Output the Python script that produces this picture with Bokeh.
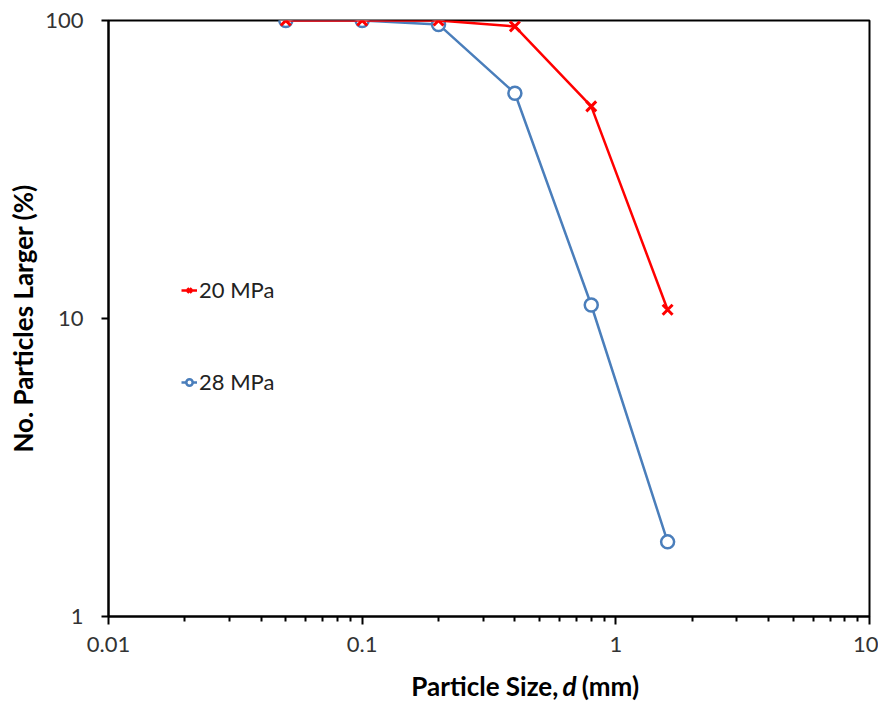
from bokeh.plotting import figure
from bokeh.layouts import column
from bokeh.models import Range1d, FixedTicker, Legend, LegendItem
from bokeh.core.properties import value
from bokeh.embed import file_html
from bokeh.resources import INLINE

# Data
particle_size = [0.05, 0.1, 0.2, 0.4, 0.8, 1.6]
pct_20mpa = [100, 100, 100, 95.5, 51.5, 10.7]
pct_28mpa = [100, 100, 97, 57, 11.1, 1.78]
series_names = ["20 MPa", "28 MPa"]
x_ticks = [0.01, 0.1, 1, 10]
x_tick_labels = ["0.01", "0.1", "1", "10"]
y_ticks = [1, 10, 100]
y_tick_labels = ["1", "10", "100"]
x_label_parts = ["Particle Size,", "d", "(mm)"]
y_label = "No. Particles Larger (%)"

FONT = "Lato"
RED = "#FF0000"
BLUE = "#4A7EBB"
W = 878

p = figure(width=W, height=666, x_axis_type="log", y_axis_type="log",
           x_range=Range1d(0.01, 10), y_range=Range1d(1, 100),
           output_backend="svg", toolbar_location=None,
           min_border_left=108, min_border_right=9,
           min_border_top=20, min_border_bottom=50)

p.xgrid.visible = False
p.ygrid.visible = False
p.outline_line_color = "black"
p.outline_line_width = 2
p.background_fill_color = "white"
p.border_fill_color = "white"

minor = [m * d for d in [0.01, 0.1, 1] for m in range(2, 10)]
p.xaxis.ticker = FixedTicker(ticks=x_ticks, minor_ticks=minor)
p.yaxis.ticker = FixedTicker(ticks=y_ticks, minor_ticks=[])
p.xaxis.major_label_overrides = {t: l for t, l in zip(x_ticks, x_tick_labels)}
p.yaxis.major_label_overrides = {t: l for t, l in zip(y_ticks, y_tick_labels)}

for ax in (p.xaxis[0], p.yaxis[0]):
    ax.axis_line_color = "black"
    ax.axis_line_width = 2
    ax.major_tick_line_color = "black"
    ax.major_tick_line_width = 2
    ax.minor_tick_line_color = "black"
    ax.minor_tick_line_width = 2
    ax.major_tick_in = 0
    ax.minor_tick_in = 0
    ax.major_label_text_font = FONT
    ax.major_label_text_font_size = "22px"
    ax.major_label_text_color = "#333333"

p.xaxis.major_tick_out = 8
p.xaxis.minor_tick_out = 5
p.xaxis.major_label_standoff = 12
p.yaxis.major_tick_out = 7
p.yaxis.minor_tick_out = 0
p.yaxis.major_label_standoff = 18

p.yaxis.axis_label = y_label
p.yaxis.axis_label_text_font = FONT
p.yaxis.axis_label_text_font_size = "26px"
p.yaxis.axis_label_text_font_style = "bold"
p.yaxis.axis_label_text_color = "black"
p.yaxis.axis_label_standoff = 3

# Series 28 MPa (drawn first)
l28 = p.line(particle_size, pct_28mpa, line_color=BLUE, line_width=2.5)
m28 = p.scatter(particle_size, pct_28mpa, marker="circle", size=13,
                line_color=BLUE, line_width=2.5, fill_color="white")
# Series 20 MPa
l20 = p.line(particle_size, pct_20mpa, line_color=RED, line_width=2.5)
m20 = p.scatter(particle_size, pct_20mpa, marker="x", size=14,
                line_color=RED, line_width=3)

legend = Legend(items=[LegendItem(label=series_names[0], renderers=[l20, m20]),
                       LegendItem(label=series_names[1], renderers=[l28, m28])],
                location=(73, 221), padding=0, margin=0, spacing=65,
                glyph_width=16, glyph_height=20, label_height=20, label_standoff=2,
                label_text_font=FONT, label_text_font_size="22px",
                label_text_color="#222222",
                border_line_color=None, background_fill_alpha=0)
p.add_layout(legend)

# x-axis title strip (to allow the italic "d")
H2 = 36
q = figure(width=W, height=H2, x_range=Range1d(0, W), y_range=Range1d(0, H2),
           output_backend="svg", toolbar_location=None,
           x_axis_location=None, y_axis_location=None,
           min_border=0, outline_line_color=None)
q.xgrid.visible = False
q.ygrid.visible = False
q.background_fill_color = "white"
q.border_fill_color = "white"
ty = 17
q.text(x=[519], y=[ty], text=[x_label_parts[0]], text_font=value(FONT),
       text_font_size="26px", text_font_style="bold", text_align="right",
       text_baseline="middle", text_color="black")
q.text(x=[532], y=[ty], text=[x_label_parts[1]], text_font=value(FONT),
       text_font_size="26px", text_font_style="bold italic", text_align="center",
       text_baseline="middle", text_color="black")
q.text(x=[546], y=[ty], text=[x_label_parts[2]], text_font=value(FONT),
       text_font_size="26px", text_font_style="bold", text_align="left",
       text_baseline="middle", text_color="black")

layout = column(p, q, spacing=0)
open("out.html", "w").write(file_html(layout, INLINE))
